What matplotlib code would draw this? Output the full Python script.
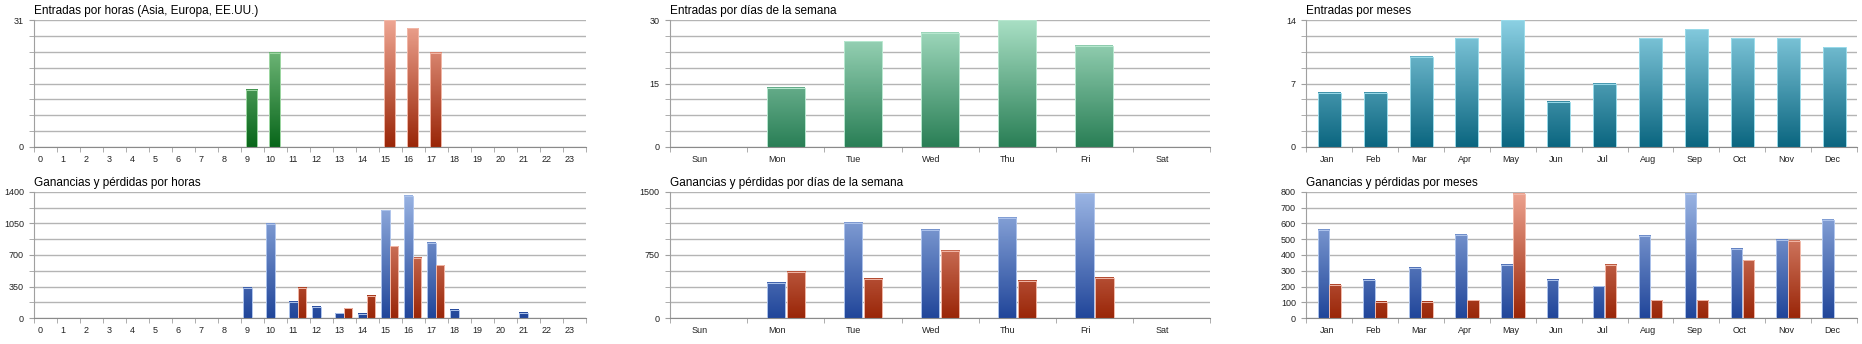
import numpy as np
import matplotlib.pyplot as plt
from matplotlib.colors import LinearSegmentedColormap

plt.rcParams['font.family'] = ['Liberation Sans', 'DejaVu Sans']

# ---- data ----
horas = [str(h) for h in range(24)]
dias = ['Sun', 'Mon', 'Tue', 'Wed', 'Thu', 'Fri', 'Sat']
meses = ['Jan', 'Feb', 'Mar', 'Apr', 'May', 'Jun',
         'Jul', 'Aug', 'Sep', 'Oct', 'Nov', 'Dec']

entradas_hora = [0, 0, 0, 0, 0, 0, 0, 0, 0, 14, 23, 0,
                 0, 0, 0, 31, 29, 23, 0, 0, 0, 0, 0, 0]
ganancias_hora = [0, 0, 0, 0, 0, 0, 0, 0, 0, 335, 1040, 180,
                  122, 55, 52, 1194, 1352, 833, 92, 0, 0, 59, 0, 0]
perdidas_hora = [0, 0, 0, 0, 0, 0, 0, 0, 0, 0, 0, 339,
                 0, 110, 247, 796, 667, 586, 0, 0, 0, 0, 0, 0]

entradas_dia = [0, 14, 25, 27, 30, 24, 0]
ganancias_dia = [0, 421, 1134, 1051, 1189, 1480, 0]
perdidas_dia = [0, 551, 465, 795, 441, 476, 0]

entradas_mes = [6, 6, 10, 12, 14, 5, 7, 12, 13, 12, 12, 11]
ganancias_mes = [559, 244, 317, 527, 336, 244, 202, 521, 784, 437, 494, 622]
perdidas_mes = [210, 105, 105, 113, 784, 0, 336, 113, 113, 366, 487, 0]

# gradient colours (bottom, top, edge)
VERDE = ('#08661a', '#8fcf95', '#9fd8a4')
ROJO = ('#9a2608', '#eea592', '#f2b8a8')
VERDE_DIA = ('#2a7f56', '#a8dfc4', '#b8e8d0')
AZUL_MES = ('#0b6680', '#8bd0e3', '#9adbea')
AZUL = ('#21469a', '#9cb6e4', '#aec4ec')

W, H = 1862, 344


def gradient_bars(ax, x, heights, width, ymax, colors):
    """Bars filled with a vertical gradient tied to the axis range."""
    c0, c1, edge = colors
    cmap = LinearSegmentedColormap.from_list('g', [c0, c1])
    xs = [xi for xi, h in zip(x, heights) if h > 0]
    hs = [h for h in heights if h > 0]
    for xi, h in zip(xs, hs):
        grad = np.linspace(0, h / ymax, 100).reshape(-1, 1)
        ax.imshow(grad, cmap=cmap, vmin=0, vmax=1, origin='lower',
                  aspect='auto', interpolation='bilinear', zorder=2,
                  extent=(xi - width / 2, xi + width / 2, 0, h))
    ax.bar(xs, hs, width, facecolor='none', edgecolor=edge, lw=0.7, zorder=3)


def style(ax, title, labels, lab_off, ymax, major, minor):
    n = len(labels)
    ax.set_xlim(0, n)
    ax.set_ylim(0, ymax)
    for s in ['top', 'right']:
        ax.spines[s].set_visible(False)
    ax.spines['left'].set_color('#a0a0a0')
    ax.spines['bottom'].set_color('#8a8a8a')
    ax.set_yticks(major)
    ax.set_yticks(minor, minor=True)
    ax.yaxis.grid(True, which='both', color='#b4b4b4', lw=1.0)
    ax.set_axisbelow(True)
    ax.set_xticks(np.arange(n + 1), minor=True)
    ax.set_xticks(np.arange(n) + lab_off)
    ax.set_xticklabels(labels)
    ax.tick_params(axis='x', which='major', length=0, pad=5.5,
                   labelsize=6.5, labelcolor='#222222')
    ax.tick_params(axis='x', which='minor', length=3.5, color='#a0a0a0')
    ax.tick_params(axis='y', which='both', length=3.5, color='#a0a0a0',
                   pad=4, labelsize=6.5, labelcolor='#222222')
    ax.annotate(title, (0, 1), xycoords='axes fraction', xytext=(0, 4.3),
                textcoords='offset points', ha='left', va='baseline',
                fontsize=8.5)


def add_axes(fig, x0, x1, y0, y1):
    return fig.add_axes([x0 / W, 1 - y1 / H, (x1 - x0) / W, (y1 - y0) / H])


fig = plt.figure(figsize=(W / 100, H / 100), dpi=100)
cols = [(34.4, 586.4), (670.2, 1210), (1306.3, 1857)]
rows = [(20.3, 147), (191.7, 318.3)]

# Entradas por horas
ax = add_axes(fig, *cols[0], *rows[0])
k = np.arange(24)
verde = [v if h < 15 else 0 for h, v in enumerate(entradas_hora)]
rojo = [v if h >= 15 else 0 for h, v in enumerate(entradas_hora)]
gradient_bars(ax, k + 0.45, verde, 0.49, 31, VERDE)
gradient_bars(ax, k + 0.45, rojo, 0.49, 31, ROJO)
style(ax, 'Entradas por horas (Asia, Europa, EE.UU.)', horas, 0.25, 31,
      [0, 31], np.linspace(0, 31, 9))

# Ganancias y pérdidas por horas
ax = add_axes(fig, *cols[0], *rows[1])
gradient_bars(ax, k + 0.275, ganancias_hora, 0.37, 1400, AZUL)
gradient_bars(ax, k + 0.645, perdidas_hora, 0.37, 1400, ROJO)
style(ax, 'Ganancias y pérdidas por horas', horas, 0.25, 1400,
      np.arange(0, 1401, 350), np.arange(0, 1401, 175))

# Entradas por días de la semana
ax = add_axes(fig, *cols[1], *rows[0])
d = np.arange(7)
gradient_bars(ax, d + 0.5, entradas_dia, 0.49, 30, VERDE_DIA)
style(ax, 'Entradas por días de la semana', dias, 0.38, 30,
      [0, 15, 30], np.linspace(0, 30, 9))

# Ganancias y pérdidas por días de la semana
ax = add_axes(fig, *cols[1], *rows[1])
gradient_bars(ax, d + 0.37, ganancias_dia, 0.24, 1500, AZUL)
gradient_bars(ax, d + 0.63, perdidas_dia, 0.24, 1500, ROJO)
style(ax, 'Ganancias y pérdidas por días de la semana', dias, 0.38, 1500,
      [0, 750, 1500], np.linspace(0, 1500, 9))

# Entradas por meses
ax = add_axes(fig, *cols[2], *rows[0])
m = np.arange(12)
gradient_bars(ax, m + 0.5, entradas_mes, 0.5, 14, AZUL_MES)
style(ax, 'Entradas por meses', meses, 0.45, 14,
      [0, 7, 14], np.linspace(0, 14, 9))

# Ganancias y pérdidas por meses
ax = add_axes(fig, *cols[2], *rows[1])
gradient_bars(ax, m + 0.37, ganancias_mes, 0.25, 800, AZUL)
gradient_bars(ax, m + 0.63, perdidas_mes, 0.25, 800, ROJO)
style(ax, 'Ganancias y pérdidas por meses', meses, 0.45, 800,
      np.arange(0, 801, 100), [])

fig.savefig('out.png', dpi=100)
